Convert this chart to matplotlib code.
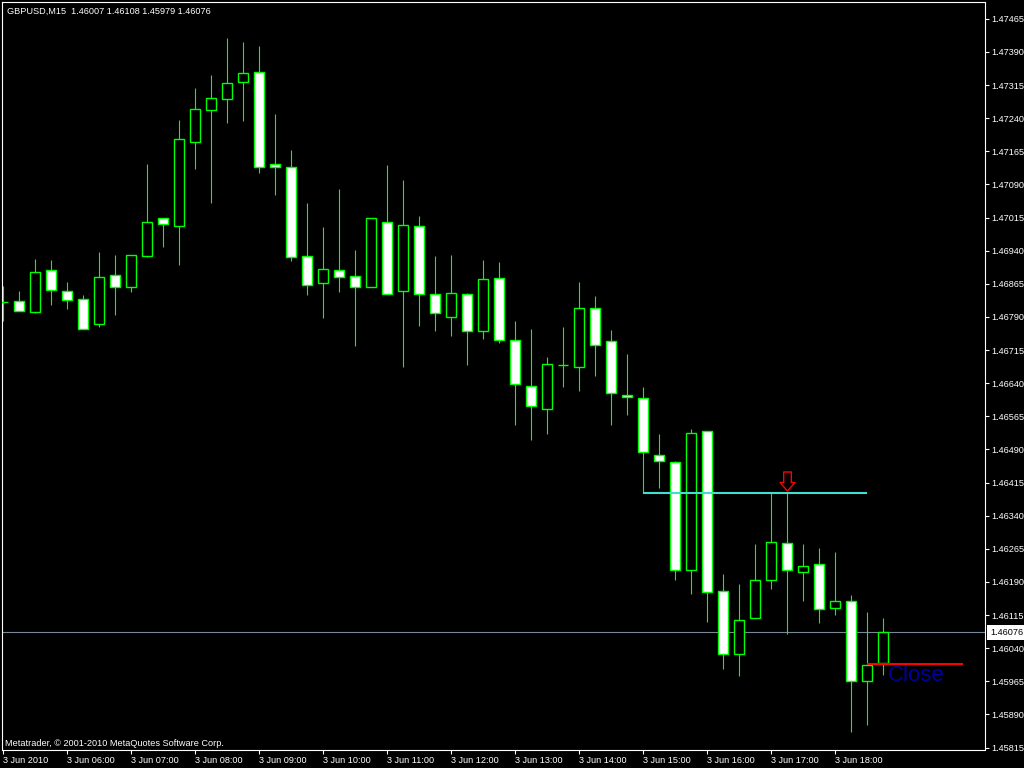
import matplotlib
matplotlib.use("Agg")
import matplotlib.pyplot as plt
import matplotlib.transforms as mtransforms
from matplotlib.patches import Rectangle
from matplotlib.path import Path
import pandas as pd

# ---------------- data ----------------
symbol = "GBPUSD,M15"
bar_times = pd.date_range("2010-06-03 05:00", periods=56, freq="15min")

opens = [1.46825, 1.46826, 1.46802, 1.46896, 1.46848, 1.46830, 1.46773, 1.46884,
         1.46859, 1.46929, 1.47013, 1.46997, 1.47187, 1.47259, 1.47284, 1.47321,
         1.47344, 1.47136, 1.47129, 1.46927, 1.46866, 1.46896, 1.46882, 1.46857,
         1.47004, 1.46848, 1.46995, 1.46841, 1.46791, 1.46841, 1.46758, 1.46878,
         1.46737, 1.46633, 1.46581, 1.46681, 1.46676, 1.46810, 1.46735, 1.46613,
         1.46606, 1.46477, 1.46461, 1.46216, 1.46531, 1.46169, 1.46028, 1.46108,
         1.46194, 1.46278, 1.46212, 1.46230, 1.46130, 1.46148, 1.45965, 1.46007]
highs = [1.46860, 1.46849, 1.46921, 1.46919, 1.46869, 1.46840, 1.46937, 1.46930,
         1.46930, 1.47136, 1.47013, 1.47236, 1.47309, 1.47338, 1.47422, 1.47413,
         1.47404, 1.47250, 1.47168, 1.47048, 1.46994, 1.47080, 1.46942, 1.47013,
         1.47134, 1.47100, 1.47019, 1.46928, 1.46930, 1.46844, 1.46919, 1.46915,
         1.46781, 1.46763, 1.46699, 1.46767, 1.46869, 1.46838, 1.46761, 1.46706,
         1.46631, 1.46525, 1.46464, 1.46536, 1.46531, 1.46208, 1.46185, 1.46276,
         1.46391, 1.46391, 1.46276, 1.46267, 1.46258, 1.46160, 1.46122, 1.46108]
lows = [1.46782, 1.46804, 1.46799, 1.46816, 1.46808, 1.46763, 1.46767, 1.46795,
        1.46847, 1.46926, 1.46949, 1.46908, 1.47124, 1.47049, 1.47230, 1.47234,
        1.47117, 1.47067, 1.46917, 1.46840, 1.46788, 1.46847, 1.46725, 1.46857,
        1.46841, 1.46677, 1.46770, 1.46759, 1.46748, 1.46682, 1.46739, 1.46732,
        1.46546, 1.46512, 1.46526, 1.46632, 1.46623, 1.46657, 1.46546, 1.46569,
        1.46391, 1.46403, 1.46195, 1.46163, 1.46100, 1.45994, 1.45978, 1.46108,
        1.46175, 1.46073, 1.46148, 1.46096, 1.46116, 1.45851, 1.45867, 1.45979]
closes = [1.46825, 1.46804, 1.46891, 1.46850, 1.46829, 1.46763, 1.46880, 1.46859,
          1.46930, 1.47004, 1.47000, 1.47192, 1.47260, 1.47285, 1.47319, 1.47342,
          1.47130, 1.47130, 1.46925, 1.46862, 1.46898, 1.46880, 1.46857, 1.47013,
          1.46841, 1.46998, 1.46841, 1.46798, 1.46844, 1.46758, 1.46875, 1.46737,
          1.46638, 1.46588, 1.46683, 1.46681, 1.46810, 1.46726, 1.46617, 1.46608,
          1.46484, 1.46463, 1.46216, 1.46527, 1.46167, 1.46026, 1.46103, 1.46194,
          1.46280, 1.46216, 1.46225, 1.46128, 1.46146, 1.45965, 1.46001, 1.46076]

last_price = 1.46076
support_level = 1.46391
support_start, support_end = 40, 54
close_level = 1.46005
close_start, close_end = 54, 60
arrow_bar = 49
close_label = "Close"

y_ticks = [1.45815, 1.45890, 1.45965, 1.46040, 1.46115, 1.46190, 1.46265, 1.46340,
           1.46415, 1.46490, 1.46565, 1.46640, 1.46715, 1.46790, 1.46865, 1.46940,
           1.47015, 1.47090, 1.47165, 1.47240, 1.47315, 1.47390, 1.47465]
x_tick_bars = [0, 4, 8, 12, 16, 20, 24, 28, 32, 36, 40, 44, 48, 52]
copyright_text = "Metatrader, \u00a9 2001-2010 MetaQuotes Software Corp."

# ---------------- style ----------------
GREEN = "#00ff00"
FONT = "Liberation Sans"
SMALL = 6.6
plt.rcParams["font.family"] = [FONT, "DejaVu Sans"]

W, H = 1024, 768
fig = plt.figure(figsize=(W / 100, H / 100), dpi=100, facecolor="black")
ax = fig.add_axes([2 / W, 18 / H, 982.5 / W, 748 / H])
ax.set_facecolor("black")

px = 1.0 / 16.0  # one pixel in bar units
ax.set_xlim(-1 * px, 61.34)
ax.set_ylim(1.458095, 1.475032)

# candles
body_w = 0.6
for i, (o, h, l, c) in enumerate(zip(opens, highs, lows, closes)):
    ax.vlines(i, l, h, color=GREEN, lw=0.8, zorder=2)
    lo, hi = min(o, c), max(o, c)
    if hi - lo < 1e-7:
        ax.hlines(o, i - body_w / 2, i + body_w / 2, color=GREEN, lw=1.0, zorder=3)
    else:
        face = "white" if c < o else "black"
        ax.add_patch(Rectangle((i - body_w / 2, lo), body_w, hi - lo,
                               facecolor=face, edgecolor=GREEN, lw=1.0, zorder=3))

# current price line
ax.axhline(last_price, color="#778899", lw=0.8, zorder=1)

# support (turquoise) line
ax.hlines(support_level, support_start, support_end, color="#40e0d0", lw=1.5, zorder=5)

# close (red) line
ax.hlines(close_level, close_start, close_end, color="red", lw=1.5, zorder=5)

# down arrow above bar
verts = [(0, -9.5), (-7.5, -1), (-3.8, -1), (-3.8, 9.5), (3.8, 9.5), (3.8, -1), (7.5, -1), (0, -9.5)]
codes = [Path.MOVETO] + [Path.LINETO] * 6 + [Path.CLOSEPOLY]
arrow_marker = Path(verts, codes)
arrow_tr = mtransforms.offset_copy(ax.transData, fig=fig, y=12.1, units="dots")
ax.plot([arrow_bar], [highs[arrow_bar]], marker=arrow_marker, markersize=19 * 0.72,
        markerfacecolor="none", markeredgecolor="red", markeredgewidth=1.0,
        linestyle="none", transform=arrow_tr, zorder=6)

# "Close" text
txt_tr = mtransforms.offset_copy(ax.transData, fig=fig, x=5, y=-1, units="dots")
ax.text(len(closes) - 1, close_level, close_label, transform=txt_tr, color="#0000a0",
        fontsize=16, family=FONT, ha="left", va="top", zorder=6)

# spines
for s in ax.spines.values():
    s.set_color("white")
    s.set_linewidth(0.8)

# y axis on the right
ax.yaxis.tick_right()
ax.set_yticks(y_ticks)
ax.set_yticklabels([f"{v:.5f}" for v in y_ticks])
ax.tick_params(axis="y", colors="white", labelcolor="white", labelsize=SMALL,
               length=3, width=0.8, direction="out", pad=2)

# x axis
labels = []
for b in x_tick_bars:
    t = bar_times[b]
    labels.append(f"{t.day} {t.strftime('%b')} {t.year}" if b == 0 else f"{t.day} {t.strftime('%b %H:%M')}")
ax.set_xticks(x_tick_bars)
ax.set_xticklabels(labels, ha="left")
ax.tick_params(axis="x", colors="white", labelcolor="white", labelsize=SMALL,
               length=3, width=0.8, direction="out", pad=1.5)

# current price label box on the axis
blend = mtransforms.blended_transform_factory(ax.transAxes, ax.transData)
lab_tr = blend + mtransforms.ScaledTranslation(5.5 / 100, 0, fig.dpi_scale_trans)
ax.text(1.0, last_price, f"{last_price:.5f}", transform=lab_tr, color="black",
        fontsize=SMALL, ha="left", va="center", clip_on=False, zorder=10,
        bbox=dict(boxstyle="square,pad=0.35", facecolor="white", edgecolor="none"))

# header and footer text
header = f"{symbol}  {opens[-1]:.5f} {highs[-1]:.5f} {lows[-1]:.5f} {closes[-1]:.5f}"
fig.text(7 / W, 1 - 11 / H, header, color="white", fontsize=SMALL, ha="left", va="center")
fig.text(5 / W, 1 - 743 / H, copyright_text, color="white", fontsize=SMALL, ha="left", va="center")

fig.savefig("out.png", dpi=100, facecolor="black")
